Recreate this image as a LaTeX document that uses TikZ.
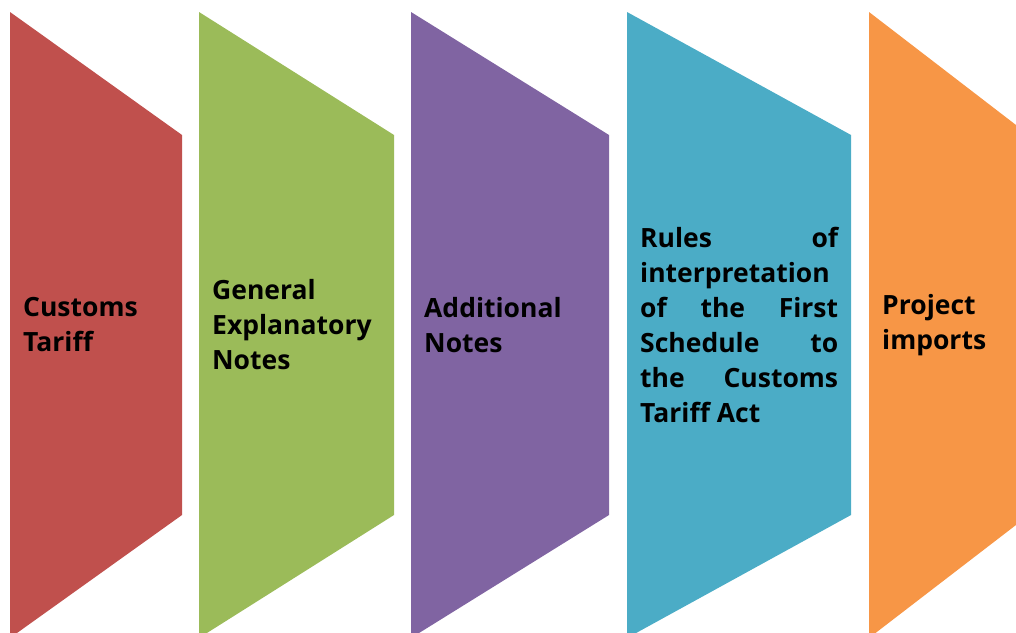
\documentclass[tikz,border=0pt]{standalone}
\usepackage{fontspec}
\setmainfont{Open Sans}[BoldFont={Open Sans Bold}]
\usetikzlibrary{positioning}
\definecolor{tariffred}{HTML}{C0504D}
\definecolor{notegreen}{HTML}{9BBB59}
\definecolor{addpurple}{HTML}{8064A2}
\definecolor{rulesteal}{HTML}{4BACC6}
\definecolor{projorange}{HTML}{F79646}

\begin{document}
\begin{tikzpicture}[
		x=1pt,y=-1pt,
		every node/.style={
    		font=\bfseries\fontsize{26.5}{35}\selectfont,
    		black, inner sep=0pt, align=justify,
    		execute at begin node={\hyphenpenalty=10000\relax\exhyphenpenalty=10000\relax}
    	},
    	chevron/.style={fill=#1, draw=none}
	]
	
	\def\ytop{12}
	\def\ynotch{123}
	\def\ybot{638}
	\def\pad{13}

	\useasboundingbox (0,0) rectangle (1016,632);
	\clip (0,0) rectangle (1016,632);
	
	\foreach \xl/\xr/\col/\txt [count=\i] in {
		10/182/tariffred/{Customs Tariff},
		199/394/notegreen/{General Explanatory Notes},
		411/609/addpurple/{Additional Notes},
		627/851/rulesteal/{Rules of interpretation of the First Schedule to the Customs Tariff Act},
		869/1029/projorange/{Project imports}}{
		\pgfmathsetmacro{\tw}{\xr-\xl-2*\pad}
		\fill[chevron=\col] (\xl,\ytop) -- (\xr,\ytop+\ynotch) -- (\xr,\ybot-\ynotch) -- (\xl,\ybot) -- cycle;
		\node[anchor=west, text width=\tw pt] (step\i) at (\xl+\pad,325) {\txt};
	}
	
\end{tikzpicture}
\end{document}
